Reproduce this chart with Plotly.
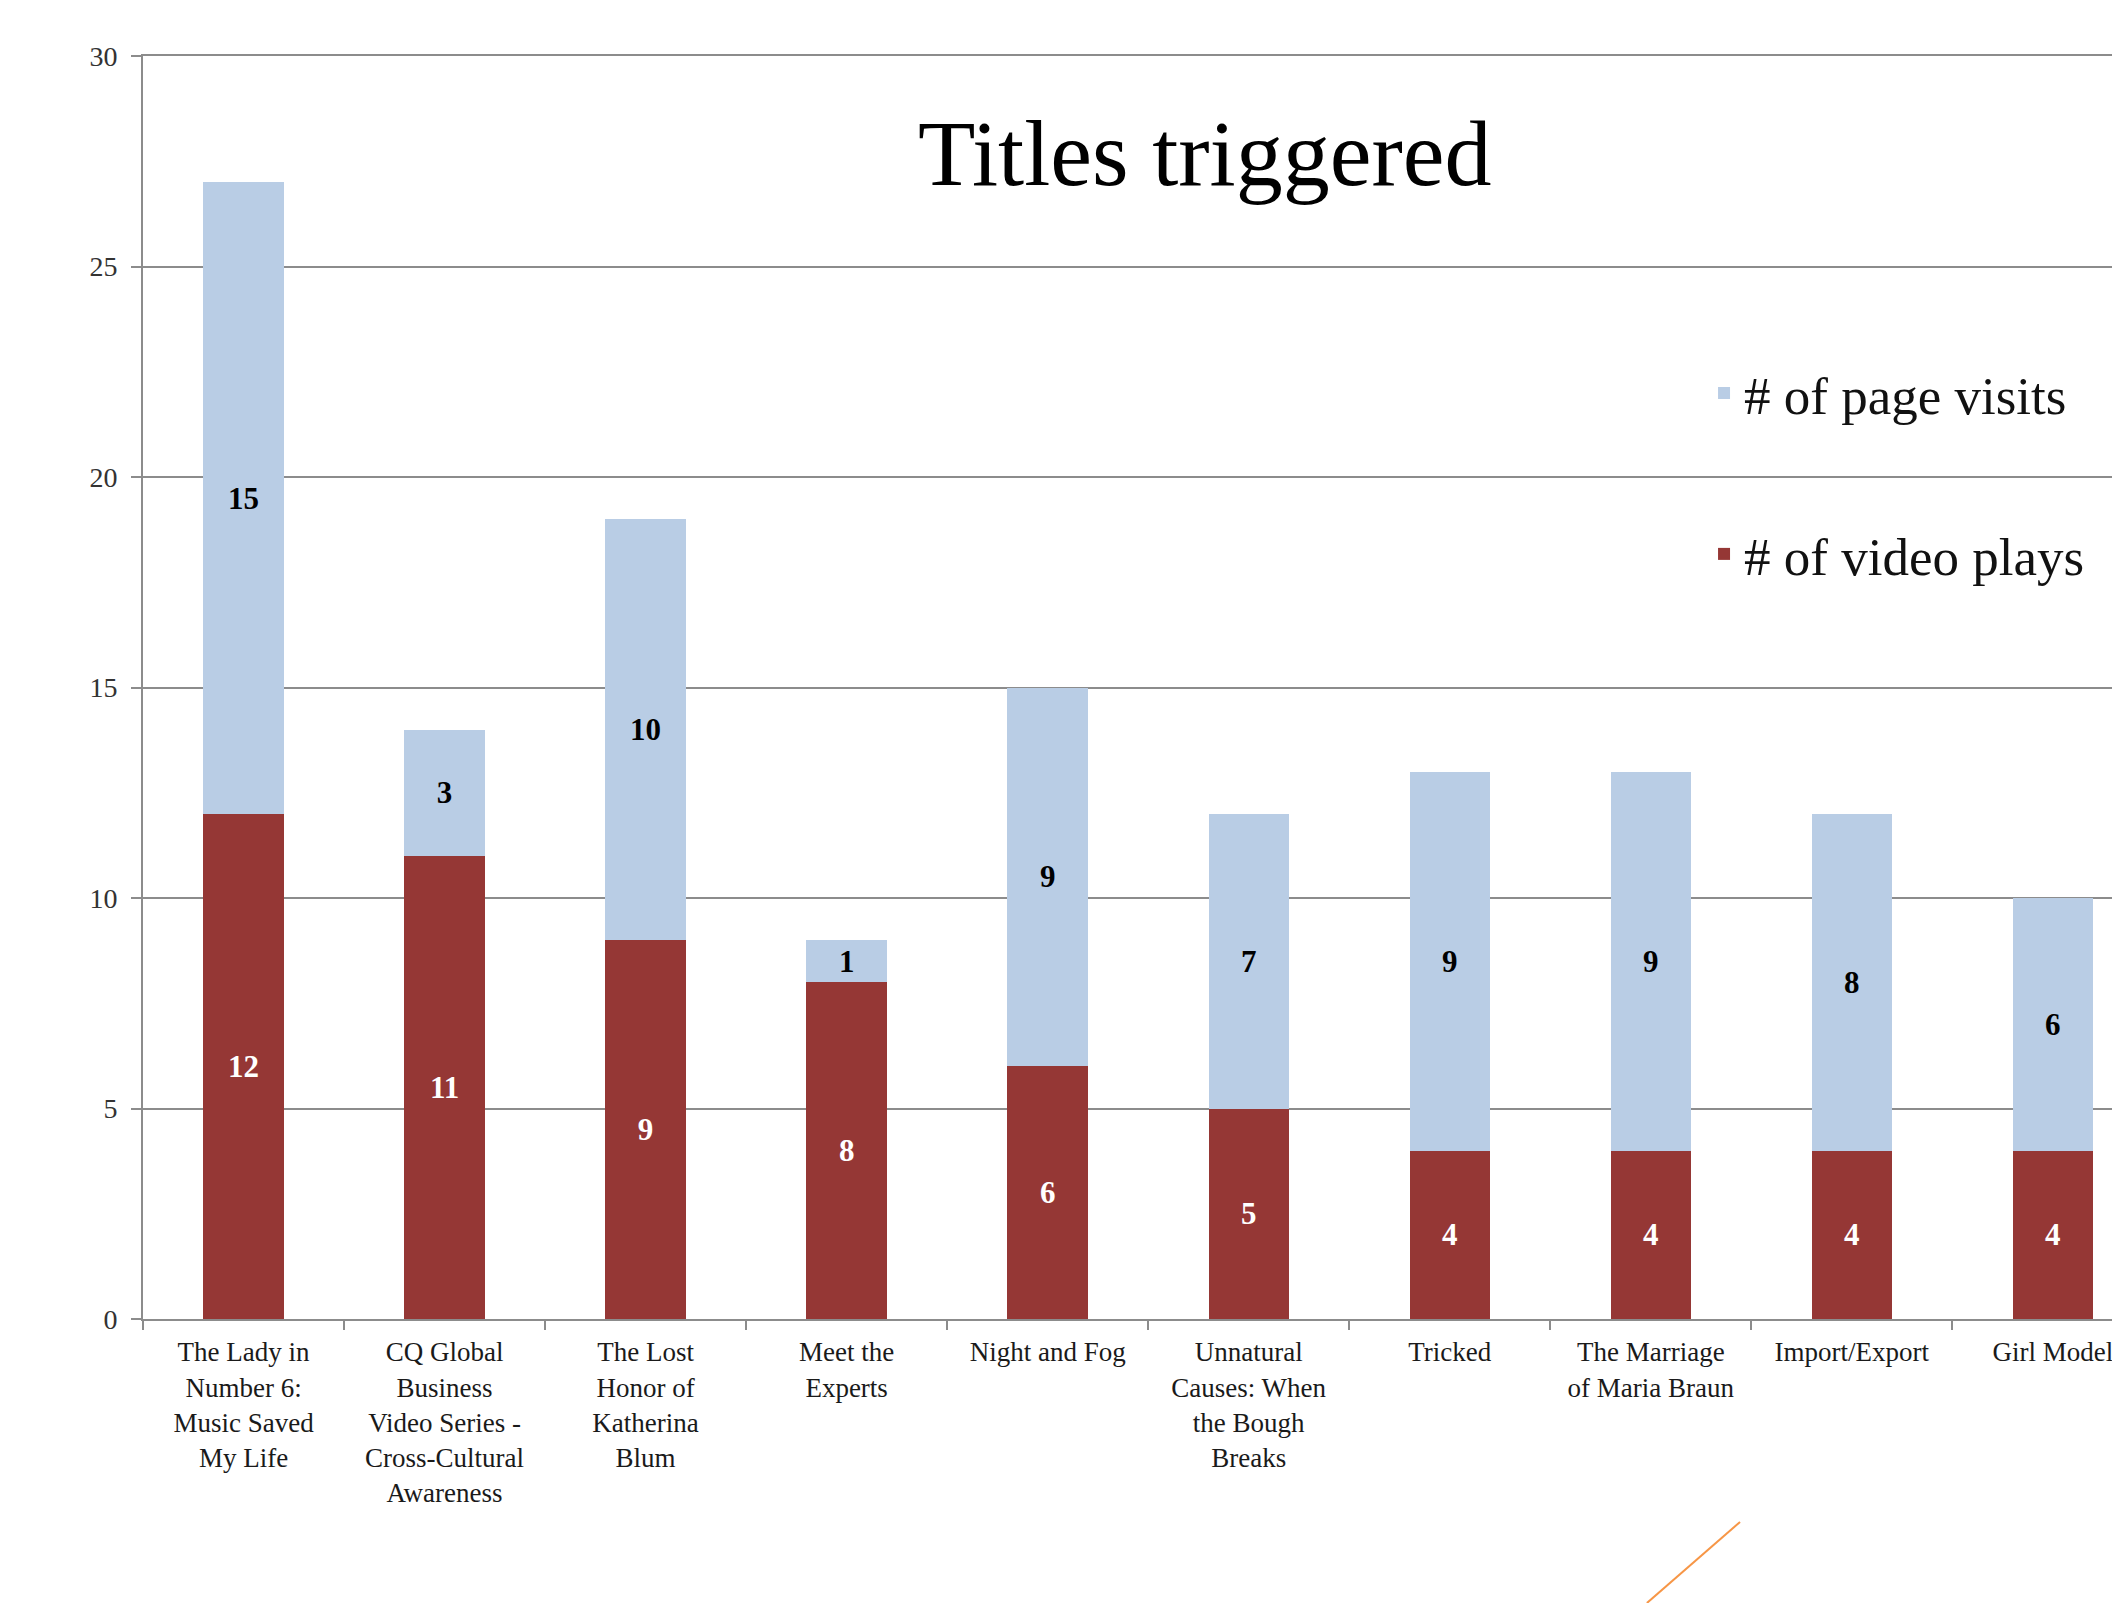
import plotly.graph_objects as go

categories = [
    "The Lady in Number 6: Music Saved My Life",
    "CQ Global Business Video Series - Cross-Cultural Awareness",
    "The Lost Honor of Katherina Blum",
    "Meet the Experts",
    "Night and Fog",
    "Unnatural Causes: When the Bough Breaks",
    "Tricked",
    "The Marriage of Maria Braun",
    "Import/Export",
    "Girl Model",
]
tick_labels = [
    "The Lady in<br>Number 6:<br>Music Saved<br>My Life",
    "CQ Global<br>Business<br>Video Series -<br>Cross-Cultural<br>Awareness",
    "The Lost<br>Honor of<br>Katherina<br>Blum",
    "Meet the<br>Experts",
    "Night and Fog",
    "Unnatural<br>Causes: When<br>the Bough<br>Breaks",
    "Tricked",
    "The Marriage<br>of Maria Braun",
    "Import/Export",
    "Girl Model",
]
video_plays = [12, 11, 9, 8, 6, 5, 4, 4, 4, 4]
page_visits = [15, 3, 10, 1, 9, 7, 9, 9, 8, 6]
y_ticks = [0, 5, 10, 15, 20, 25, 30]

SERIF = "Liberation Serif, Times New Roman, serif"
RED = "#953735"
BLUE = "#B9CDE5"
GRID = "#8c8c8c"

fig = go.Figure()
fig.add_trace(go.Bar(
    x=categories, y=video_plays, name="# of video plays",
    marker=dict(color=RED, line=dict(width=0)),
    text=video_plays, textposition="inside", insidetextanchor="middle",
    textangle=0, constraintext="none",
    textfont=dict(family=SERIF, size=31, color="white", weight="bold"),
    legendgroup="v", legendrank=2,
))
fig.add_trace(go.Bar(
    x=categories, y=page_visits, name="# of page visits",
    marker=dict(color=BLUE, line=dict(width=0)),
    text=page_visits, textposition="inside", insidetextanchor="middle",
    textangle=0, constraintext="none",
    textfont=dict(family=SERIF, size=31, color="black", weight="bold"),
    legendgroup="p", legendrank=1,
))

# the page body has an 8px margin, so the figure is sized to fill the rest of the window
fig.update_layout(
    width=2112, height=1595,
    barmode="stack", bargap=0.6,
    paper_bgcolor="white", plot_bgcolor="white",
    margin=dict(l=135, r=0, t=48, b=284),
    title=dict(
        text="Titles triggered",
        font=dict(family=SERIF, size=94, color="black"),
        x=0.537, xref="paper", xanchor="center",
        y=0.9097, yref="container", yanchor="middle",
    ),
    legend=dict(
        x=0.7896, xanchor="left", y=0.7656, yanchor="top",
        font=dict(family=SERIF, size=53, color="#111111"),
        traceorder="grouped", tracegroupgap=89,
        bgcolor="rgba(0,0,0,0)",
    ),
    showlegend=True,
    font=dict(family=SERIF),
)
fig.update_xaxes(
    type="category",
    categoryorder="array", categoryarray=categories,
    tickmode="array", tickvals=categories, ticktext=tick_labels,
    range=[-0.5, 9.334],
    tickson="boundaries", ticks="outside", ticklen=9, tickcolor=GRID, tickwidth=2,
    showline=True, linecolor=GRID, linewidth=2, mirror=True,
    showgrid=False,
    tickfont=dict(family=SERIF, size=27, color="#1a1a1a"),
    tickangle=0,
    ticklabelstandoff=8,
)
fig.update_yaxes(
    range=[0, 30], tickmode="array", tickvals=y_ticks,
    ticks="outside", ticklen=10, tickcolor=GRID, tickwidth=2,
    showline=True, linecolor=GRID, linewidth=2,
    showgrid=True, gridcolor=GRID, gridwidth=2,
    zeroline=False,
    tickfont=dict(family=SERIF, size=28, color="#333333"),
    ticklabelstandoff=8,
)
# slide decoration: thin orange diagonal near the bottom
fig.add_shape(
    type="line", xref="paper", yref="paper",
    x0=0.8078, y0=-0.1607, x1=0.7607, y1=-0.2249,
    line=dict(color="#F79646", width=2),
)

fig.write_html("out.html")
